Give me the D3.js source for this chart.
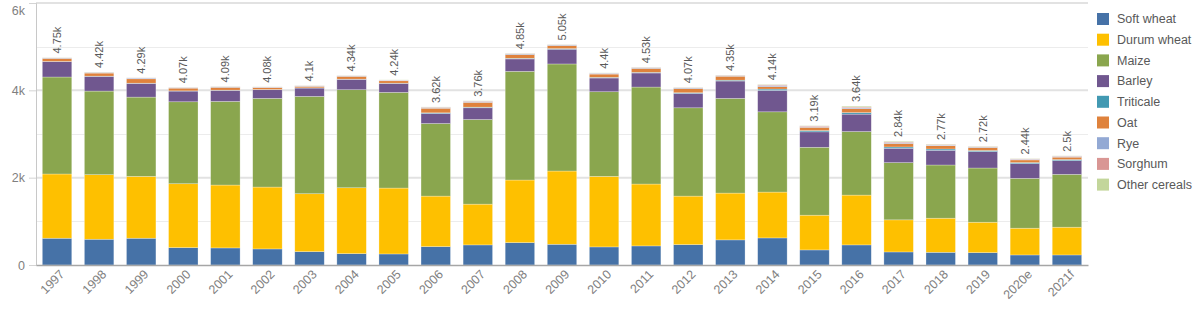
<!DOCTYPE html>
<html>
<head>
<meta charset="utf-8">
<script src="https://cdn.jsdelivr.net/npm/d3@7"></script>
<style>
  body { margin: 0; background: #fff; }
  svg { display: block; font-family: "Liberation Sans", Arial, sans-serif; }
</style>
</head>
<body>
<script>
// years on the x axis
var years = ["1997","1998","1999","2000","2001","2002","2003","2004","2005","2006","2007","2008",
             "2009","2010","2011","2012","2013","2014","2015","2016","2017","2018","2019","2020e","2021f"];

var crops = ["Soft wheat","Durum wheat","Maize","Barley","Triticale","Oat","Rye","Sorghum","Other cereals"];

// series values
var softWheat  = [613,590,613,398,391,368,306,260,253,421,460,513,475,414,437,467,575,620,345,460,299,291,283,230,230];
var durumWheat = [1471,1478,1417,1463,1440,1417,1326,1509,1509,1157,934,1433,1677,1616,1417,1111,1072,1050,796,1141,735,781,697,613,636];
var maize      = [2221,1915,1815,1877,1915,2030,2229,2245,2191,1662,1938,2489,2452,1938,2221,2022,2168,1838,1555,1455,1310,1218,1241,1141,1210];
var barley     = [352,337,314,245,253,199,191,237,206,230,268,284,337,314,322,330,398,491,353,399,329,337,376,337,314];
var triticale  = [5,5,5,5,5,5,5,5,5,15,15,15,15,15,15,15,20,30,30,35,30,30,25,25,25];
var oat        = [70,70,100,62,65,45,35,65,55,105,110,85,70,75,90,95,90,55,75,90,80,75,70,60,55];
var rye        = [12,15,18,12,13,10,10,12,12,15,20,18,15,18,18,18,15,25,15,20,20,15,12,15,15];
var sorghum    = [3,5,5,5,5,3,5,4,5,10,10,8,5,6,6,8,8,20,15,20,20,15,10,12,10];
var other      = [4,5,3,3,3,3,3,3,4,5,5,5,4,4,4,4,4,11,6,20,17,8,6,7,5];

var totalLabels = ["4.75k","4.42k","4.29k","4.07k","4.09k","4.08k","4.1k","4.34k","4.24k","3.62k","3.76k","4.85k",
                   "5.05k","4.4k","4.53k","4.07k","4.35k","4.14k","3.19k","3.64k","2.84k","2.77k","2.72k","2.44k","2.5k"];

var yTicks = [0, 2000, 4000, 6000];

var colors = ["#4672a7","#fec000","#8aa64e","#70578f","#4299b2","#df823c","#93a9d4","#d99694","#c3d69b"];

var seriesValues = [softWheat, durumWheat, maize, barley, triticale, oat, rye, sorghum, other];

// build table rows for the stack layout
var table = years.map(function(y, i) {
    var row = {year: y, label: totalLabels[i]};
    crops.forEach(function(c, j) { row[c] = seriesValues[j][i]; });
    return row;
});

var width = 1203, height = 323;
var margin = {left: 36, right: 115, top: 3, bottom: 58};

var svg = d3.select("body").append("svg")
    .attr("width", width)
    .attr("height", height);

var x = d3.scaleBand()
    .domain(years)
    .range([margin.left, width - margin.right])
    .paddingInner(0.3)
    .paddingOuter(0.15);

var y = d3.scaleLinear()
    .domain([0, 6000])
    .range([height - margin.bottom, margin.top]);

// grid lines: minor at odd thousands, major at ticks
svg.append("g").selectAll("line.minor")
    .data([1000, 3000, 5000])
    .enter().append("line")
    .attr("x1", margin.left).attr("x2", width - margin.right)
    .attr("y1", function(d) { return Math.round(y(d)) + 0.5; })
    .attr("y2", function(d) { return Math.round(y(d)) + 0.5; })
    .style("stroke", "#ececec")
    .style("stroke-width", 1);

svg.append("g").selectAll("line.major")
    .data(yTicks.slice(1))
    .enter().append("line")
    .attr("x1", margin.left).attr("x2", width - margin.right)
    .attr("y1", function(d) { return y(d); })
    .attr("y2", function(d) { return y(d); })
    .style("stroke", "#e2e2e2")
    .style("stroke-width", 2);

// y axis
var yAxis = svg.append("g")
    .attr("transform", "translate(" + margin.left + ",0)")
    .call(d3.axisLeft(y).tickValues(yTicks).tickSize(7).tickPadding(4)
        .tickFormat(function(d) { return d === 0 ? "0" : (d / 1000) + "k"; }));
yAxis.select(".domain").style("stroke", "#c8c8c8");
yAxis.selectAll(".tick line").style("stroke", "#d4d4d4");
yAxis.selectAll("text")
    .style("font-size", "12.5px")
    .style("fill", "#7f7f7f");
// top label sits below its line so it is not cut off
yAxis.selectAll(".tick text")
    .filter(function(d) { return d === 6000; })
    .attr("dy", "0.95em");

// stacked bars
var stack = d3.stack().keys(crops);
var layers = stack(table);

svg.append("g").selectAll("g.layer")
    .data(layers)
    .enter().append("g")
    .attr("class", "layer")
    .style("fill", function(d, i) { return colors[i]; })
    .selectAll("rect")
    .data(function(d) { return d; })
    .enter().append("rect")
    .attr("x", function(d) { return x(d.data.year); })
    .attr("width", x.bandwidth())
    .attr("y", function(d) { return y(d[1]); })
    .attr("height", function(d) { return y(d[0]) - y(d[1]); })
    .style("stroke", "rgba(255,255,255,0.45)")
    .style("stroke-width", 0.6);

// total labels above bars
svg.append("g").selectAll("text")
    .data(table)
    .enter().append("text")
    .attr("transform", function(d) {
        var total = d3.sum(crops, function(c) { return d[c]; });
        return "translate(" + (x(d.year) + x.bandwidth() / 2) + "," + (y(total) - 4) + ") rotate(-90)";
    })
    .attr("dy", "0.35em")
    .style("font-size", "11px")
    .style("fill", "#595959")
    .text(function(d) { return d.label; });

// x axis
var xAxis = svg.append("g")
    .attr("transform", "translate(0," + (height - margin.bottom) + ")")
    .call(d3.axisBottom(x).tickSize(0).tickPadding(0));
xAxis.select(".domain").style("stroke", "#a6a6a6").style("stroke-width", 1.5);
xAxis.selectAll("text")
    .attr("text-anchor", "end")
    .attr("transform", "translate(5,7) rotate(-45)")
    .attr("dy", "0.35em")
    .attr("y", 0)
    .style("font-size", "12.5px")
    .style("fill", "#808080");

// legend
var legend = svg.append("g")
    .attr("transform", "translate(1097,13)");
var item = legend.selectAll("g")
    .data(crops)
    .enter().append("g")
    .attr("transform", function(d, i) { return "translate(0," + (i * 20.7) + ")"; });
item.append("rect")
    .attr("width", 12).attr("height", 12)
    .style("fill", function(d, i) { return colors[i]; });
item.append("text")
    .attr("x", 20).attr("y", 6)
    .attr("dy", "0.35em")
    .style("font-size", "12.5px")
    .style("fill", "#595959")
    .text(function(d) { return d; });
</script>
</body>
</html>
